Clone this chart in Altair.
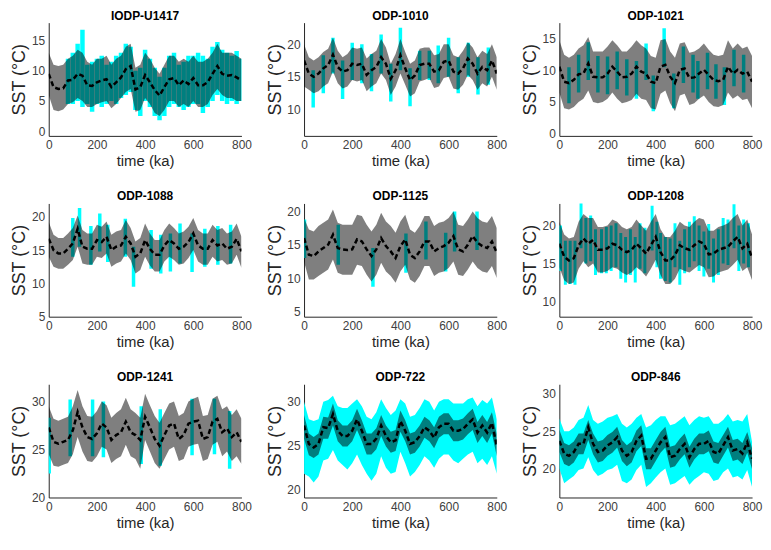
import altair as alt
import pandas as pd

TIME = list(range(0, 801, 20))
X_TICKS = [0, 200, 400, 600, 800]

SITES = ["IODP-U1417", "ODP-1010", "ODP-1021", "ODP-1088", "ODP-1125",
         "ODP-1208", "ODP-1241", "ODP-722", "ODP-846"]

# ---- IODP-U1417
U1417_MEAN = [9.5, 7.3, 7.0, 7.1, 8.4, 8.5, 9.5, 9.2, 7.6, 7.5, 8.1, 8.4, 8.6, 7.3, 8.1, 8.9, 10.3, 10.8, 6.9, 7.3,
              9.3, 8.1, 6.8, 5.9, 7.3, 8.6, 8.8, 7.6, 8.4, 7.8, 8.8, 7.6, 7.6, 8.1, 9.5, 10.8, 9.5, 9.2, 9.3, 8.9, 8.4]
U1417_HI = [13.0, 11.0, 10.8, 11.0, 12.0, 12.5, 13.5, 13.0, 11.5, 11.0, 12.0, 12.0, 12.5, 11.0, 12.0, 12.5, 14.0, 14.5, 10.5, 11.0,
            13.0, 12.0, 10.5, 9.5, 11.0, 12.5, 12.5, 11.5, 12.0, 11.5, 12.5, 11.5, 11.5, 12.0, 13.0, 14.5, 13.0, 13.0, 13.0, 12.5, 12.0]
U1417_LO = [6.0, 3.5, 3.3, 3.6, 4.5, 4.8, 5.5, 5.0, 4.0, 4.0, 4.5, 4.8, 5.0, 3.8, 4.5, 5.5, 6.5, 7.0, 3.2, 3.5,
            5.5, 4.5, 3.0, 2.5, 3.5, 5.0, 5.0, 4.0, 4.5, 4.0, 5.0, 4.0, 4.0, 4.5, 6.0, 7.0, 6.0, 5.5, 5.5, 5.0, 5.0]
U1417_CT = list(range(80, 801, 20))
U1417_CLO = [4.5, 4.5, 5.0, 4.0, 4.5, 3.2, 4.5, 4.0, 4.5, 5.0, 4.5, 5.5, 6.0, 6.5, 3.5, 2.5, 5.0, 4.0, 2.5, 1.8,
             2.5, 4.0, 4.5, 4.0, 3.5, 4.0, 4.5, 4.5, 3.0, 4.0, 5.0, 6.0, 5.0, 4.5, 5.0, 4.5, 5.0]
U1417_CHI = [12.0, 13.0, 14.5, 16.8, 11.0, 11.5, 12.0, 12.5, 11.0, 11.5, 12.5, 13.0, 14.5, 14.0, 10.0, 10.5, 13.5, 12.0, 10.5, 9.0,
             10.5, 12.5, 13.0, 11.0, 11.5, 12.5, 12.5, 13.0, 12.5, 12.0, 14.0, 14.8, 13.5, 13.0, 12.5, 13.3, 12.0]

# ---- ODP-1010
S1010_MEAN = [17.5, 15.5, 15.0, 15.5, 16.3, 16.8, 18.4, 16.5, 15.8, 16.0, 17.0, 16.8, 17.0, 15.3, 16.0, 16.5, 18.0, 17.0, 14.7, 16.0,
              18.3, 16.3, 14.5, 15.2, 16.8, 17.0, 17.0, 15.8, 16.0, 17.3, 17.5, 15.8, 15.5, 16.3, 17.8, 17.0, 15.5, 16.5, 16.0, 17.5, 15.5]
S1010_HI = [20.0, 18.0, 17.5, 18.0, 18.8, 19.3, 21.0, 19.0, 18.0, 18.5, 19.5, 19.3, 19.5, 17.8, 18.5, 19.0, 20.8, 19.5, 17.0, 18.5,
            20.8, 18.8, 17.0, 17.5, 19.3, 19.5, 19.5, 18.3, 18.5, 20.0, 20.0, 18.3, 18.0, 19.0, 20.3, 19.5, 18.0, 19.0, 18.5, 20.0, 18.0]
S1010_LO = [13.5, 13.0, 12.5, 12.8, 13.5, 14.0, 15.8, 14.0, 13.2, 13.5, 14.5, 14.3, 14.5, 12.8, 13.5, 14.0, 15.5, 14.5, 12.2, 13.5,
            15.5, 13.8, 12.0, 12.5, 14.3, 14.5, 14.8, 13.3, 13.5, 14.8, 15.0, 13.2, 13.0, 13.8, 15.3, 14.5, 13.0, 14.0, 13.5, 15.0, 13.0]
S1010_CT = [38, 80, 120, 160, 200, 240, 280, 320, 360, 400, 440, 480, 520, 557, 600, 640, 682, 722, 765]
S1010_CLO = [10.3, 12.5, 15.5, 11.6, 14.5, 14.0, 12.8, 15.5, 11.2, 16.0, 10.5, 14.5, 14.5, 14.0, 15.0, 12.5, 15.0, 12.3, 13.8]
S1010_CHI = [16.0, 18.3, 21.0, 17.5, 20.2, 20.0, 18.5, 21.5, 17.0, 22.5, 16.3, 19.0, 19.0, 19.8, 21.0, 18.0, 20.2, 18.0, 19.5]

# ---- ODP-1021
S1021_MEAN = [10.6, 8.2, 8.0, 8.5, 9.4, 9.5, 11.1, 9.0, 8.9, 8.9, 9.5, 10.6, 9.8, 8.9, 9.0, 9.5, 10.6, 9.8, 9.5, 8.2,
              8.0, 10.6, 10.9, 9.0, 8.0, 10.1, 10.3, 8.8, 8.9, 9.5, 10.1, 9.3, 8.5, 8.3, 8.5, 10.6, 9.5, 10.1, 9.5, 9.8, 8.2]
S1021_HI = [14.8, 12.5, 12.0, 12.5, 13.5, 14.0, 15.3, 13.0, 13.0, 13.0, 13.8, 14.8, 14.0, 13.0, 13.0, 13.8, 14.8, 14.0, 13.5, 12.3,
            12.0, 14.8, 15.0, 13.0, 12.0, 14.3, 14.5, 12.8, 13.0, 13.5, 14.3, 13.3, 12.5, 12.3, 12.5, 14.8, 13.5, 14.3, 13.5, 13.8, 12.3]
S1021_LO = [6.5, 4.0, 3.8, 4.2, 5.0, 5.5, 6.8, 5.0, 4.8, 5.0, 5.5, 6.5, 5.5, 4.8, 5.0, 5.3, 6.3, 5.5, 5.3, 4.0,
            3.8, 6.3, 6.8, 4.8, 3.5, 6.0, 6.3, 4.5, 4.8, 5.5, 6.0, 5.0, 4.3, 4.2, 4.5, 6.5, 5.5, 6.0, 5.3, 5.5, 4.0]
S1021_CT = [40, 80, 120, 160, 200, 240, 280, 320, 360, 390, 435, 475, 515, 555, 575, 615, 650, 685, 725, 765]
S1021_CLO = [4.8, 6.5, 8.5, 6.5, 6.2, 7.0, 6.0, 5.5, 8.5, 3.5, 10.5, 4.0, 8.0, 6.5, 5.5, 7.0, 5.5, 4.5, 7.5, 6.5]
S1021_CHI = [10.5, 12.5, 14.5, 12.3, 12.2, 13.0, 11.8, 11.5, 14.3, 9.2, 16.7, 9.5, 13.8, 12.5, 11.5, 12.8, 11.0, 10.5, 13.3, 12.5]

# ---- ODP-1088
S1088_MEAN = [16.7, 15.0, 14.5, 14.5, 15.2, 16.0, 18.2, 15.5, 15.2, 15.2, 16.5, 16.2, 17.0, 15.0, 15.5, 15.7, 17.0, 16.0, 14.0, 14.5,
              16.5, 15.2, 14.3, 14.3, 15.7, 16.5, 16.0, 15.2, 15.5, 16.2, 17.5, 15.7, 15.2, 15.2, 16.5, 15.7, 16.0, 15.2, 15.5, 16.7, 14.8]
S1088_HI = [19.2, 17.3, 16.8, 16.8, 17.5, 18.3, 20.2, 18.0, 17.5, 17.5, 18.8, 18.5, 19.3, 17.3, 17.8, 18.0, 19.5, 18.3, 16.3, 16.8,
            19.0, 17.5, 16.5, 16.5, 18.0, 19.0, 18.3, 17.5, 17.8, 18.5, 19.8, 18.0, 17.5, 17.5, 18.8, 18.0, 18.3, 17.5, 17.8, 19.0, 17.0]
S1088_LO = [14.0, 12.5, 12.2, 12.2, 12.8, 13.5, 15.5, 13.0, 12.8, 12.8, 14.0, 13.8, 14.5, 12.5, 13.0, 13.3, 14.5, 13.5, 11.5, 12.0,
            14.0, 12.7, 11.8, 11.8, 13.3, 14.0, 13.5, 12.8, 13.0, 13.8, 15.0, 13.3, 12.8, 12.8, 14.0, 13.3, 13.5, 12.8, 13.0, 14.3, 12.3]
S1088_CT = [100, 128, 175, 212, 245, 318, 352, 425, 465, 505, 545, 595, 648, 702, 755]
S1088_CLO = [14.0, 15.5, 12.8, 14.8, 13.2, 14.0, 9.5, 12.2, 11.5, 11.8, 13.0, 11.7, 12.5, 12.8, 13.0]
S1088_CHI = [19.8, 21.3, 18.6, 20.5, 18.8, 19.7, 15.5, 18.0, 17.3, 17.5, 19.0, 17.5, 18.2, 18.6, 18.8]

# ---- ODP-1125
S1125_MEAN = [16.0, 13.5, 13.3, 14.0, 14.5, 15.0, 16.5, 14.5, 14.3, 14.2, 14.3, 15.8, 15.5, 14.3, 13.3, 14.3, 16.0, 14.8, 14.0, 13.0,
              14.8, 15.8, 13.5, 13.0, 14.0, 15.5, 15.5, 14.0, 14.5, 14.8, 15.3, 16.3, 14.3, 14.0, 15.0, 16.3, 15.3, 14.8, 14.5, 15.5, 13.8]
S1125_HI = [19.0, 17.3, 17.0, 17.8, 18.3, 18.8, 20.3, 18.3, 18.0, 18.0, 18.0, 19.5, 19.3, 18.0, 17.0, 18.0, 19.8, 18.5, 17.8, 16.8,
            18.5, 19.5, 17.3, 16.8, 17.8, 19.3, 19.3, 17.8, 18.3, 18.5, 19.0, 20.0, 18.0, 17.8, 18.8, 20.0, 19.0, 18.5, 18.3, 19.3, 17.5]
S1125_LO = [12.5, 9.8, 9.8, 10.3, 10.8, 11.3, 12.8, 10.8, 10.5, 10.5, 10.5, 12.0, 11.8, 10.5, 9.5, 10.5, 12.3, 11.0, 10.3, 9.3,
            11.0, 12.0, 9.8, 9.3, 10.3, 11.8, 11.8, 10.3, 10.8, 11.0, 11.5, 12.5, 10.5, 10.3, 11.3, 12.5, 11.5, 11.0, 10.8, 11.8, 10.0]
S1125_CT = [2, 142, 286, 423, 506, 588, 625, 718]
S1125_CLO = [13.0, 12.0, 8.7, 10.8, 12.8, 11.0, 14.0, 14.2]
S1125_CHI = [18.8, 18.0, 14.5, 16.7, 18.5, 16.8, 20.0, 20.0]

# ---- ODP-1208
S1208_MEAN = [17.6, 15.9, 15.4, 15.7, 17.4, 18.3, 17.6, 18.1, 16.8, 16.8, 17.0, 17.6, 17.4, 16.8, 16.5, 16.8, 17.6, 17.0, 16.3, 17.4,
              18.5, 16.5, 15.4, 15.4, 16.1, 17.4, 17.0, 16.8, 17.4, 17.9, 17.6, 16.2, 16.3, 16.8, 17.0, 17.2, 17.9, 18.5, 17.0, 17.6, 15.7]
S1208_HI = [20.5, 18.8, 18.3, 18.5, 20.5, 21.5, 21.0, 21.0, 19.8, 19.8, 20.0, 20.8, 20.5, 19.8, 19.5, 19.8, 20.8, 20.0, 19.3, 20.5,
            21.5, 19.5, 18.5, 18.5, 19.3, 20.5, 20.0, 19.8, 20.5, 21.0, 20.8, 19.3, 19.3, 19.8, 20.0, 20.3, 21.0, 21.5, 20.0, 20.8, 18.8]
S1208_LO = [14.5, 12.8, 12.3, 12.5, 14.3, 15.3, 14.5, 15.0, 13.8, 13.8, 14.0, 14.5, 14.3, 13.8, 13.5, 13.8, 14.5, 14.0, 13.3, 14.3,
            15.5, 13.5, 12.3, 12.3, 13.0, 14.3, 14.0, 13.8, 14.3, 14.8, 14.5, 13.2, 13.3, 13.8, 14.0, 14.2, 14.8, 15.5, 14.0, 14.5, 12.8]
S1208_CT = [5, 25, 45, 65, 90, 110, 130, 150, 175, 195, 215, 235, 255, 275, 295, 315, 335, 355, 385, 405,
            420, 440, 460, 480, 500, 520, 540, 560, 580, 600, 620, 640, 660, 680, 700, 725, 745, 765, 785]
S1208_CLO = [14.0, 12.2, 12.3, 12.2, 17.0, 15.0, 15.3, 13.5, 13.7, 13.7, 14.0, 14.5, 13.0, 12.5, 13.5, 12.5, 14.3, 13.7, 16.7, 14.5,
             13.0, 12.7, 12.5, 14.5, 12.2, 13.7, 14.5, 15.3, 14.0, 13.3, 14.3, 12.5, 13.5, 15.0, 14.8, 17.0, 14.0, 15.0, 14.5]
S1208_CHI = [20.0, 18.0, 18.0, 18.0, 23.0, 21.0, 21.3, 19.5, 19.5, 19.8, 20.0, 20.3, 19.0, 18.5, 19.5, 18.5, 20.3, 19.7, 22.6, 20.5,
             19.0, 18.5, 18.3, 20.3, 18.0, 19.5, 20.5, 21.2, 20.0, 19.2, 20.2, 18.3, 19.5, 21.0, 20.8, 22.8, 20.0, 20.8, 20.3]

# ---- ODP-1241
S1241_MEAN = [27.3, 25.8, 25.6, 25.8, 26.0, 27.0, 28.9, 27.3, 26.3, 26.1, 26.7, 27.7, 27.3, 26.0, 26.5, 26.8, 27.9, 26.8, 26.5, 26.0,
              28.4, 27.3, 26.1, 25.4, 26.5, 27.5, 27.7, 26.1, 26.5, 27.7, 27.9, 28.0, 26.1, 26.3, 27.9, 28.2, 26.8, 27.2, 26.3, 26.8, 25.8]
S1241_HI = [29.5, 28.2, 28.0, 28.2, 28.4, 29.5, 31.2, 29.5, 28.5, 28.4, 29.0, 30.0, 29.6, 28.3, 28.8, 29.2, 30.4, 29.2, 28.8, 28.3,
            30.8, 29.6, 28.5, 27.8, 28.8, 29.8, 30.0, 28.5, 28.8, 30.0, 30.3, 30.5, 28.5, 28.6, 30.3, 30.6, 29.2, 29.5, 28.6, 29.2, 28.2]
S1241_LO = [24.5, 23.3, 23.2, 23.4, 23.6, 24.5, 26.3, 24.8, 23.8, 23.7, 24.3, 25.3, 25.0, 23.6, 24.0, 24.3, 25.5, 24.3, 24.0, 23.0,
            26.0, 24.8, 23.6, 23.0, 24.0, 25.0, 25.3, 23.8, 24.0, 25.3, 25.5, 25.6, 23.8, 24.0, 25.5, 25.8, 24.3, 24.8, 23.8, 24.3, 23.5]
S1241_CT = [2, 89, 182, 227, 384, 463, 595, 688, 751]
S1241_CLO = [22.5, 24.3, 24.3, 24.2, 23.5, 23.3, 24.4, 24.5, 23.0]
S1241_CHI = [28.3, 30.2, 30.2, 30.0, 29.5, 29.2, 30.3, 30.3, 29.0]

# ---- ODP-722
S722_MEAN = [27.3, 25.2, 24.8, 25.2, 27.1, 27.0, 28.6, 26.7, 26.1, 26.1, 26.7, 28.0, 26.7, 25.2, 25.2, 25.8, 27.3, 26.1, 25.4, 25.6,
             27.8, 26.7, 25.2, 25.4, 26.1, 27.1, 26.7, 25.9, 27.1, 27.5, 27.5, 26.7, 26.7, 26.9, 27.5, 28.0, 26.5, 27.3, 26.5, 27.6, 25.0]
S722_HI = [28.5, 26.4, 26.0, 26.4, 28.3, 28.2, 29.8, 27.9, 27.3, 27.3, 27.9, 29.2, 27.9, 26.4, 26.4, 27.0, 28.5, 27.3, 26.6, 26.8,
           29.0, 27.9, 26.4, 26.6, 27.3, 28.3, 27.9, 27.1, 28.3, 28.7, 28.7, 27.9, 27.9, 28.1, 28.7, 29.2, 27.7, 28.5, 27.7, 28.8, 26.3]
S722_LO = [25.8, 23.9, 23.6, 24.0, 25.8, 25.8, 27.3, 25.5, 24.9, 24.9, 25.5, 26.8, 25.5, 24.0, 24.0, 24.6, 26.1, 24.9, 24.2, 24.4,
           26.6, 25.5, 24.0, 24.2, 24.9, 25.9, 25.5, 24.7, 25.9, 26.3, 26.3, 25.5, 25.5, 25.7, 26.3, 26.8, 25.3, 26.1, 25.3, 26.4, 23.8]
S722_CHI = [30.0, 28.0, 27.8, 28.0, 30.0, 30.2, 30.7, 29.5, 29.3, 29.3, 29.8, 30.3, 29.5, 28.3, 28.0, 28.8, 30.3, 29.3, 28.5, 29.0,
            30.3, 29.8, 28.3, 28.5, 29.3, 30.3, 30.0, 29.0, 30.0, 30.3, 30.3, 29.8, 29.8, 29.8, 30.3, 30.5, 29.5, 30.2, 29.8, 30.5, 28.0]
S722_CLO = [21.8, 21.5, 20.8, 21.5, 23.3, 23.5, 24.5, 23.3, 22.8, 22.3, 23.0, 24.0, 22.8, 21.8, 21.0, 21.8, 23.8, 22.5, 21.8, 22.0,
            24.3, 23.0, 21.5, 22.0, 22.8, 23.8, 23.3, 22.5, 23.5, 24.0, 24.0, 23.3, 23.0, 23.5, 24.0, 24.3, 23.0, 23.5, 22.8, 23.8, 21.8]

# ---- ODP-846
S846_MEAN = [23.7, 22.0, 21.7, 22.2, 23.3, 23.3, 25.5, 23.3, 22.2, 22.4, 23.1, 23.5, 24.2, 22.4, 21.7, 22.2, 23.7, 24.4, 21.3, 21.3,
             22.4, 23.5, 24.2, 21.5, 21.7, 22.6, 23.3, 21.5, 22.6, 23.3, 23.3, 23.7, 22.2, 22.0, 23.1, 24.2, 22.4, 22.6, 22.0, 23.5, 21.3]
S846_HI = [25.2, 23.4, 23.1, 23.6, 24.7, 24.7, 26.5, 24.7, 23.6, 23.8, 24.5, 24.9, 25.6, 23.8, 23.1, 23.6, 25.1, 25.8, 22.7, 22.7,
           23.8, 24.9, 25.6, 22.9, 23.1, 24.0, 24.7, 22.9, 24.0, 24.7, 24.7, 25.1, 23.6, 23.4, 24.5, 25.6, 23.8, 24.0, 23.4, 24.9, 22.7]
S846_LO = [22.2, 20.6, 20.3, 20.8, 21.9, 21.9, 23.8, 21.9, 20.8, 21.0, 21.7, 22.1, 22.8, 21.0, 20.3, 20.8, 22.3, 23.0, 19.9, 19.9,
           21.0, 22.1, 22.8, 20.1, 20.3, 21.2, 21.9, 20.1, 21.2, 21.9, 21.9, 22.3, 20.8, 20.6, 21.7, 22.8, 21.0, 21.2, 20.6, 22.1, 19.9]
S846_CHI = [26.7, 25.0, 25.0, 25.5, 26.5, 26.8, 28.5, 26.5, 26.0, 26.3, 26.8, 27.0, 27.3, 26.0, 25.5, 26.0, 26.8, 27.3, 25.5, 25.8,
            26.5, 27.0, 27.0, 25.8, 26.0, 26.5, 27.0, 25.8, 26.5, 27.0, 26.8, 27.0, 26.0, 26.0, 26.5, 27.3, 26.3, 26.5, 26.3, 27.3, 23.5]
S846_CLO = [20.0, 18.0, 18.5, 19.0, 19.8, 20.0, 21.5, 19.8, 19.0, 19.3, 19.8, 20.0, 20.5, 18.3, 18.0, 18.5, 19.8, 20.5, 17.5, 18.0,
            18.8, 19.5, 20.0, 17.8, 18.0, 18.5, 19.0, 17.8, 18.5, 19.0, 19.5, 19.3, 18.3, 18.5, 19.5, 20.0, 18.8, 19.0, 18.5, 19.8, 17.5]

# y-axis domains and tick labels
Y_DOMAINS = [[-0.8, 18.0], [5.95, 23.3], [-0.4, 17.6], [5.0, 22.0], [4.2, 21.2],
             [8.0, 22.9], [20.0, 31.8], [19.1, 32.0], [16.1, 31.3]]
Y_TICKS = [[0, 5, 10, 15], [10, 15, 20], [0, 5, 10, 15], [5, 10, 15, 20], [5, 10, 15, 20],
           [10, 15, 20], [20, 25, 30], [20, 25, 30], [20, 25, 30]]

CYAN = "#00FFFF"

PANELS = [
    (U1417_MEAN, U1417_LO, U1417_HI, ("spikes", U1417_CT, U1417_CLO, U1417_CHI, 4.5)),
    (S1010_MEAN, S1010_LO, S1010_HI, ("spikes", S1010_CT, S1010_CLO, S1010_CHI, 3.5)),
    (S1021_MEAN, S1021_LO, S1021_HI, ("spikes", S1021_CT, S1021_CLO, S1021_CHI, 3.5)),
    (S1088_MEAN, S1088_LO, S1088_HI, ("spikes", S1088_CT, S1088_CLO, S1088_CHI, 3.5)),
    (S1125_MEAN, S1125_LO, S1125_HI, ("spikes", S1125_CT, S1125_CLO, S1125_CHI, 3.5)),
    (S1208_MEAN, S1208_LO, S1208_HI, ("spikes", S1208_CT, S1208_CLO, S1208_CHI, 3)),
    (S1241_MEAN, S1241_LO, S1241_HI, ("spikes", S1241_CT, S1241_CLO, S1241_CHI, 3.5)),
    (S722_MEAN, S722_LO, S722_HI, ("band", TIME, S722_CLO, S722_CHI, 0)),
    (S846_MEAN, S846_LO, S846_HI, ("band", TIME, S846_CLO, S846_CHI, 0)),
]


def make_panel(name, mean, lo, hi, cyan, ydom, yticks):
    df = pd.DataFrame({"t": TIME, "mean": mean, "lo": lo, "hi": hi})
    kind, ct, clo, chi, w = cyan
    cdf = pd.DataFrame({"t": ct, "clo": clo, "chi": chi})

    xenc = alt.X("t:Q", scale=alt.Scale(domain=[0, 800], nice=False, zero=False),
                 axis=alt.Axis(values=X_TICKS, title="time (ka)", labelFlush=False))
    ysc = alt.Scale(domain=ydom, nice=False, zero=False)
    yax = alt.Axis(values=yticks, title="SST (°C)")

    if kind == "band":
        cy = alt.Chart(cdf).mark_area(color=CYAN, opacity=1, clip=True).encode(
            x=xenc, y=alt.Y("clo:Q", scale=ysc, axis=yax), y2="chi:Q")
    else:
        cy = alt.Chart(cdf).mark_rule(color=CYAN, strokeWidth=w, clip=True).encode(
            x=xenc, y=alt.Y("clo:Q", scale=ysc, axis=yax), y2="chi:Q")

    gray = alt.Chart(df).mark_area(color="black", opacity=0.5, clip=True).encode(
        x=xenc, y=alt.Y("lo:Q", scale=ysc, axis=yax), y2="hi:Q")
    line = alt.Chart(df).mark_line(color="black", strokeWidth=2.5, strokeDash=[5, 3], clip=True).encode(
        x=xenc, y=alt.Y("mean:Q", scale=ysc, axis=yax))

    return alt.layer(cy, gray, line).properties(
        width=194, height=114,
        title=alt.Title(name, fontSize=12, fontWeight="bold", color="black",
                        font="Liberation Sans", offset=0, anchor="middle"))


panels = [make_panel(SITES[i], *PANELS[i], Y_DOMAINS[i], Y_TICKS[i]) for i in range(9)]

chart = alt.concat(*panels, columns=3, spacing={"row": 68, "column": 63}, bounds="flush").properties(
    padding={"left": 3, "top": 0, "right": 0, "bottom": 0}
).configure_view(stroke=None).configure_axis(
    grid=False, ticks=False, domainColor="#262626", domainWidth=1,
    labelFont="Liberation Sans", labelFontSize=12, labelColor="#404040",
    titleFont="Liberation Sans", titleFontSize=15, titleFontWeight="normal", titleColor="#262626",
).configure_axisY(
    labelPadding=4, minExtent=19, maxExtent=19, titlePadding=1, titleFontSize=18
).configure_axisX(
    labelPadding=4, titlePadding=3
)

chart.save("out.html", embed_options={"renderer": "svg", "actions": False})
